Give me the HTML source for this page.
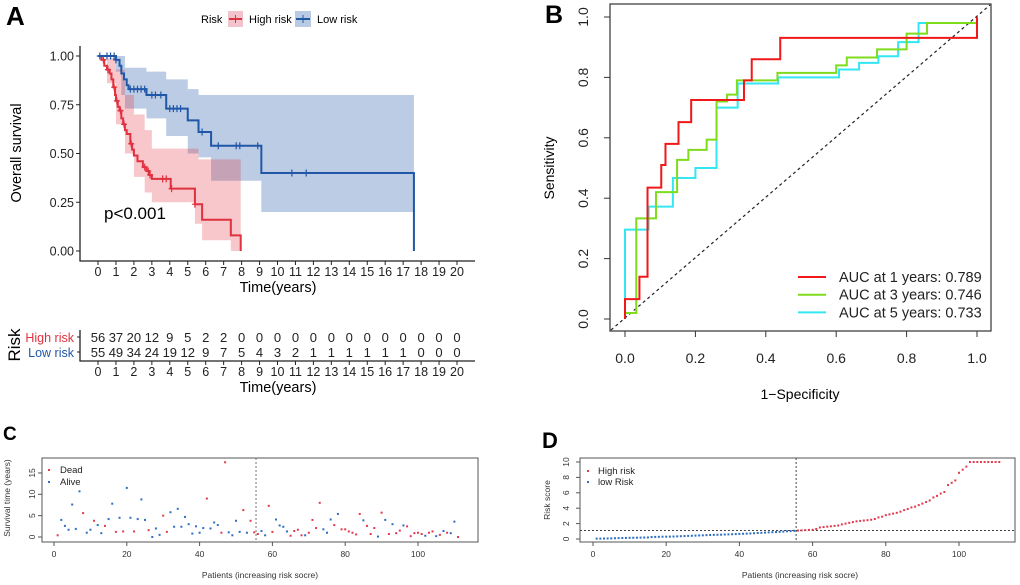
<!DOCTYPE html>
<html><head><meta charset="utf-8"><style>
body{margin:0;background:#fff;}
svg{display:block;font-family:"Liberation Sans",Arial,sans-serif;}
</style></head><body>
<svg id="fig" width="1020" height="585" viewBox="0 0 1020 585" xmlns="http://www.w3.org/2000/svg">
<g id="A"></g>
<g id="B"></g>
<g id="C"></g>
<g id="D"></g>
</svg>
<script>
// ---- Panel A data ----
const kmTicks = [0,1,2,3,4,5,6,7,8,9,10,11,12,13,14,15,16,17,18,19,20];
const yTicksA = [0,0.25,0.5,0.75,1.0];
const yTickLabA = ["0.00","0.25","0.50","0.75","1.00"];
const highT = [0,0.2,0.35,0.5,0.65,0.75,0.85,0.95,1.0,1.1,1.2,1.3,1.4,1.5,1.6,1.8,1.9,2.0,2.2,2.5,2.7,2.85,3.0,4.05,5.4,5.8,7.4,7.95];
const highS = [1,0.98,0.95,0.93,0.91,0.88,0.84,0.8,0.77,0.74,0.72,0.68,0.65,0.62,0.6,0.55,0.52,0.49,0.46,0.43,0.41,0.39,0.37,0.32,0.24,0.16,0.08,0];
const highEnd = 7.95;
const highBandT = [0,0.5,1.0,1.5,2.0,2.6,3.0,5.4,5.6,5.8,7.4];
const highBandHi = [1,0.99,0.93,0.8,0.7,0.62,0.525,0.525,0.47,0.47,0.47];
const highBandLo = [1,0.86,0.65,0.5,0.38,0.3,0.25,0.14,0.14,0.055,0.0];
const highCens = [0.3,0.55,0.9,1.05,1.25,1.45,1.85,2.6,2.8,2.9,3.6,3.8,4.1,5.4];
const lowT = [0,1.0,1.2,1.3,1.45,1.6,1.7,2.7,3.8,5.0,5.6,6.3,9.1,17.6];
const lowS = [1,0.98,0.95,0.91,0.88,0.85,0.83,0.8,0.73,0.67,0.61,0.54,0.4,0];
const lowEnd = 17.6;
const lowBandT = [0,1.0,1.3,1.5,2.7,3.8,5.0,5.6,6.3,9.1];
const lowBandHi = [1,1,1,0.94,0.92,0.88,0.83,0.8,0.8,0.8];
const lowBandLo = [1,0.92,0.8,0.73,0.68,0.59,0.5,0.48,0.36,0.2];
const lowCens = [0.1,0.5,0.7,0.9,1.0,1.8,2.0,2.2,2.4,2.6,3.0,3.2,3.5,4.0,4.2,4.4,4.6,5.8,6.7,7.7,7.9,8.9,10.8,11.6];
const riskHigh = [56,37,20,12,9,5,2,2,0,0,0,0,0,0,0,0,0,0,0,0,0];
const riskLow = [55,49,34,24,19,12,9,7,5,4,3,2,1,1,1,1,1,1,0,0,0];

// ---- Panel B data ----
const rocTicks = [0,0.2,0.4,0.6,0.8,1.0];
const rocTickLab = ["0.0","0.2","0.4","0.6","0.8","1.0"];
const roc1x = [0,0,0.041,0.041,0.064,0.064,0.103,0.103,0.115,0.115,0.152,0.152,0.188,0.188,0.338,0.338,0.36,0.36,0.441,0.441,1,1];
const roc1y = [0,0.066,0.066,0.14,0.14,0.435,0.435,0.51,0.51,0.58,0.58,0.652,0.652,0.725,0.725,0.79,0.79,0.86,0.86,0.931,0.931,1];
const roc3x = [0,0,0.032,0.032,0.088,0.088,0.148,0.148,0.18,0.18,0.232,0.232,0.26,0.26,0.29,0.29,0.318,0.318,0.433,0.433,0.6,0.6,0.63,0.63,0.716,0.716,0.8,0.8,0.858,0.858,1,1];
const roc3y = [0,0.02,0.02,0.333,0.333,0.42,0.42,0.527,0.527,0.56,0.56,0.594,0.594,0.72,0.72,0.743,0.743,0.79,0.79,0.815,0.815,0.84,0.84,0.866,0.866,0.893,0.893,0.945,0.945,0.98,0.98,1];
const roc5x = [0,0,0.067,0.067,0.136,0.136,0.2,0.2,0.26,0.26,0.32,0.32,0.435,0.435,0.608,0.608,0.665,0.665,0.72,0.72,0.776,0.776,0.834,0.834,1,1];
const roc5y = [0,0.296,0.296,0.372,0.372,0.467,0.467,0.5,0.5,0.7,0.7,0.78,0.78,0.8,0.8,0.826,0.826,0.848,0.848,0.87,0.87,0.917,0.917,0.98,0.98,1];
const rocLabels = ["AUC at 1 years: 0.789","AUC at 3 years: 0.746","AUC at 5 years: 0.733"];

// ---- Panel C data ----
const survTime = [0.4,4.0,2.6,1.7,7.6,1.9,10.7,5.6,1.0,1.7,3.8,2.8,0.9,2.6,4.2,7.8,1.2,4.5,1.3,11.5,4.5,1.3,4.2,8.8,4.0,1.6,0,2.0,0.5,5.0,1.2,5.8,2.4,6.6,2.4,4.7,3.0,0.8,2.5,1.0,2.1,9.0,2.0,3.4,2.8,1.0,17.5,1.1,0.4,3.8,1.2,6.3,1.0,3.8,1.1,0.7,1.4,0.4,7.3,1.2,4.1,2.7,2.4,1.3,0.3,1.4,1.7,0.4,0.4,1.0,4.0,2.1,8.0,1.8,1.0,4.1,2.8,5.4,1.8,1.8,1.3,1.0,0.6,5.4,3.9,2.6,0.7,2.1,0.1,5.7,4.0,0.7,3.0,0.9,1.5,2.7,2.5,0.2,0.9,1.0,0.7,0.3,1.0,1.3,0.2,0.5,1.4,1.0,0.9,3.6,0];
const survDead = [1,0,0,0,0,0,0,1,0,0,1,0,0,1,0,0,1,0,1,0,0,1,0,0,0,1,0,0,0,1,1,0,0,0,0,0,0,0,0,0,0,1,0,0,0,1,1,0,0,0,0,1,0,1,1,1,0,0,1,1,0,0,0,0,1,1,1,1,0,1,1,1,1,0,0,0,1,0,1,1,1,1,1,1,0,1,1,1,0,1,0,1,0,1,1,0,1,1,1,1,1,0,1,1,0,1,0,1,0,0,1];
const cYTicks = [0,5,10,15];
const pTicks = [0,20,40,60,80,100];

// ---- Panel D data ----
const riskScore = [0.05,0.05,0.06,0.07,0.08,0.1,0.12,0.13,0.14,0.15,0.16,0.17,0.18,0.19,0.2,0.25,0.27,0.28,0.3,0.3,0.31,0.32,0.34,0.36,0.38,0.4,0.42,0.44,0.46,0.48,0.5,0.52,0.54,0.55,0.56,0.58,0.6,0.62,0.64,0.66,0.68,0.7,0.72,0.75,0.78,0.8,0.83,0.86,0.88,0.9,0.93,0.96,1.0,1.03,1.06,
1.1,1.12,1.15,1.18,1.2,1.3,1.5,1.55,1.6,1.65,1.7,1.75,1.9,2.0,2.1,2.2,2.3,2.35,2.4,2.45,2.5,2.6,2.8,2.9,3.1,3.2,3.3,3.4,3.55,3.75,3.9,4.1,4.2,4.4,4.6,4.8,5.0,5.4,5.6,5.9,6.1,7.0,7.3,7.6,8.6,9.0,9.4,10,10,10,10,10,10,10,10,10];
const dYTicks = [0,2,4,6,8,10];
const cutoffIdx = 55.5;
const cutoffScore = 1.1;

const NS = "http://www.w3.org/2000/svg";
function mk(parent, tag, attrs, text){
  const e = document.createElementNS(NS, tag);
  for (const k in attrs) e.setAttribute(k, attrs[k]);
  if (text !== undefined) e.textContent = text;
  parent.appendChild(e);
  return e;
}

// ===== Panel A =====
(function(){
  const g = document.getElementById('A');
  const X = t => 98 + t*17.95;
  const Y = s => 251 - s*195;
  let t = mk(g,'text',{x:6,y:25,'font-size':26,'font-weight':'bold'},'A');
   
  const lg = mk(g,'g',{});
   
  mk(lg,'text',{x:201,y:23,'font-size':11},'Risk');
  mk(lg,'rect',{x:228,y:11,width:15,height:16,fill:'#f2c3ca'});
  mk(lg,'line',{x1:229,y1:19,x2:242,y2:19,stroke:'#e0313f','stroke-width':2});
  mk(lg,'line',{x1:235.5,y1:15,x2:235.5,y2:23,stroke:'#e0313f','stroke-width':1});
  let e = mk(lg,'text',{x:249,y:23,'font-size':11},'High risk');
   
  mk(lg,'rect',{x:295,y:11,width:16,height:16,fill:'#b8cbe3'});
  mk(lg,'line',{x1:296,y1:19,x2:310,y2:19,stroke:'#2057a7','stroke-width':2});
  mk(lg,'line',{x1:303,y1:15,x2:303,y2:23,stroke:'#2057a7','stroke-width':1});
  e = mk(lg,'text',{x:317,y:23,'font-size':11},'Low risk');
   

  function band(T,Hi,Lo,end,fill,name){
    let d = 'M'+X(T[0])+' '+Y(Hi[0]);
    for (let i=0;i<T.length;i++){
      const tn = i+1<T.length?T[i+1]:end;
      d += ' V'+Y(Hi[i])+' H'+X(tn);
    }
    for (let i=T.length-1;i>=0;i--){
      d += ' V'+Y(Lo[i])+' H'+X(T[i]);
    }
    d+='Z';
    const p = mk(g,'path',{d:d,fill:fill});
     
  }
  band(lowBandT,lowBandHi,lowBandLo,lowEnd,'rgba(32,87,167,0.3)','low-risk-ci-band');
  band(highBandT,highBandHi,highBandLo,highEnd,'rgba(224,49,63,0.27)','high-risk-ci-band');
  function curve(T,S,cens,col,name){
    let d='M'+X(T[0])+' '+Y(S[0]);
    for (let i=1;i<T.length;i++) d+=' H'+X(T[i])+' V'+Y(S[i]);
    const p = mk(g,'path',{d:d,fill:'none',stroke:col,'stroke-width':2});
     
    cens.forEach(c=>{
      let s=S[0]; for(let i=0;i<T.length;i++){ if(T[i]<=c) s=S[i]; }
      const m = mk(g,'path',{d:'M'+(X(c)-3)+' '+Y(s)+' h6 M'+X(c)+' '+(Y(s)-3.5)+' v7',stroke:col,'stroke-width':1.2});
       
    });
  }
  curve(highT,highS,highCens,'#e0313f','high-risk-curve');
  curve(lowT,lowS,lowCens,'#2057a7','low-risk-curve');
  const ax = mk(g,'path',{d:'M80 46 V261 H475',fill:'none',stroke:'#222','stroke-width':1.3});
   
  yTicksA.forEach((v,i)=>{
    mk(g,'line',{x1:76,y1:Y(v),x2:80,y2:Y(v),stroke:'#222'});
    const l = mk(g,'text',{x:74,y:Y(v)+4.5,'font-size':12.5,'text-anchor':'end',fill:'#222'},yTickLabA[i]);
     
  });
  kmTicks.forEach(v=>{
    mk(g,'line',{x1:X(v),y1:261,x2:X(v),y2:265,stroke:'#222'});
    const l = mk(g,'text',{x:X(v),y:276,'font-size':12.5,'text-anchor':'middle',fill:'#222'},String(v));
     
  });
  e = mk(g,'text',{x:278,y:292,'font-size':14.5,'text-anchor':'middle'},'Time(years)');
   
  e = mk(g,'text',{x:21,y:153,'font-size':14.5,'text-anchor':'middle',transform:'rotate(-90 21 153)'},'Overall survival');
   
  e = mk(g,'text',{x:104,y:219,'font-size':17},'p<0.001');
   
  const rt = mk(g,'g',{});
   
  mk(rt,'path',{d:'M80 330 V361 H475',fill:'none',stroke:'#222','stroke-width':1.3});
  mk(rt,'line',{x1:77,y1:337,x2:80,y2:337,stroke:'#222'});
  mk(rt,'line',{x1:77,y1:352,x2:80,y2:352,stroke:'#222'});
  mk(rt,'text',{x:74,y:342,'font-size':12.5,'text-anchor':'end',fill:'#e0313f'},'High risk');
  mk(rt,'text',{x:74,y:357,'font-size':12.5,'text-anchor':'end',fill:'#2057a7'},'Low risk');
  mk(rt,'text',{x:20,y:345,'font-size':17,'text-anchor':'middle',transform:'rotate(-90 20 345)'},'Risk');
  kmTicks.forEach((v,i)=>{
    mk(rt,'text',{x:X(v),y:342,'font-size':13,'text-anchor':'middle',fill:'#222'},String(riskHigh[i]));
    mk(rt,'text',{x:X(v),y:357,'font-size':13,'text-anchor':'middle',fill:'#222'},String(riskLow[i]));
    mk(rt,'line',{x1:X(v),y1:361,x2:X(v),y2:365,stroke:'#222'});
    mk(rt,'text',{x:X(v),y:376,'font-size':12.5,'text-anchor':'middle',fill:'#222'},String(v));
  });
  mk(rt,'text',{x:278,y:392,'font-size':14.5,'text-anchor':'middle'},'Time(years)');
})();

// ===== Panel B =====
(function(){
  const g = document.getElementById('B');
  const X = v => 625 + v*352;
  const Y = v => 319 - v*302;
  let e = mk(g,'text',{x:545,y:23,'font-size':25,'font-weight':'bold'},'B');
   
  e = mk(g,'rect',{x:610,y:4,width:381,height:327,fill:'none',stroke:'#333','stroke-width':1.2});
   
  e = mk(g,'line',{x1:611,y1:330,x2:990,y2:5,stroke:'#222','stroke-width':1.2,'stroke-dasharray':'3,3'});
   
  function roc(xs,ys,col,name){
    let d='';
    xs.forEach((x,i)=>{ d+=(i?' L':'M')+X(x)+' '+Y(ys[i]); });
    const p = mk(g,'path',{d:d,fill:'none',stroke:col,'stroke-width':2});
     
  }
  roc(roc5x,roc5y,'#33e6f2','roc-curve-5-years');
  roc(roc3x,roc3y,'#7fdc1c','roc-curve-3-years');
  roc(roc1x,roc1y,'#f01818','roc-curve-1-year');
  rocTicks.forEach((v,i)=>{
    mk(g,'line',{x1:X(v),y1:331,x2:X(v),y2:337,stroke:'#333'});
    mk(g,'text',{x:X(v),y:363,'font-size':14,'text-anchor':'middle',fill:'#222'},rocTickLab[i]);
    mk(g,'line',{x1:604,y1:Y(v),x2:610,y2:Y(v),stroke:'#333'});
    mk(g,'text',{x:588,y:Y(v),'font-size':14,'text-anchor':'middle',fill:'#222',transform:'rotate(-90 588 '+Y(v)+')'},rocTickLab[i]);
  });
  e = mk(g,'text',{x:800,y:399,'font-size':14,'text-anchor':'middle'},'1\u2212Specificity');
   
  e = mk(g,'text',{x:554,y:168,'font-size':14,'text-anchor':'middle',transform:'rotate(-90 554 168)'},'Sensitivity');
   
  const cols = ['#f01818','#7fdc1c','#33e6f2'];
  rocLabels.forEach((lab,i)=>{
    const y = 277 + i*17.7;
    mk(g,'line',{x1:798,y1:y,x2:826,y2:y,stroke:cols[i],'stroke-width':2});
    const t = mk(g,'text',{x:839,y:y+5,'font-size':14.5,fill:'#222'},lab);
     
  });
})();

// ===== Panel C =====
(function(){
  const g = document.getElementById('C');
  const X = i => 54 + i*3.64;
  const Y = v => 537 - v*4.27;
  let e = mk(g,'text',{x:3,y:440,'font-size':19,'font-weight':'bold'},'C');
   
  e = mk(g,'rect',{x:42,y:458,width:436,height:84,fill:'none',stroke:'#555','stroke-width':1});
   
  e = mk(g,'line',{x1:X(cutoffIdx),y1:458,x2:X(cutoffIdx),y2:542,stroke:'#777','stroke-width':1,'stroke-dasharray':'2,2'});
   
  survTime.forEach((v,i)=>{
    const c = mk(g,'rect',{x:X(i+1)-1,y:Y(v)-1,width:2,height:2,fill:survDead[i]?'#e23a4e':'#2e6fc2'});
     
  });
  cYTicks.forEach(v=>{
    mk(g,'line',{x1:38,y1:Y(v),x2:42,y2:Y(v),stroke:'#555'});
    mk(g,'text',{x:35,y:Y(v),'font-size':8.5,'text-anchor':'middle',fill:'#333',transform:'rotate(-90 35 '+Y(v)+')'},String(v));
  });
  pTicks.forEach(v=>{
    mk(g,'line',{x1:X(v),y1:542,x2:X(v),y2:546,stroke:'#555'});
    mk(g,'text',{x:X(v),y:557,'font-size':8.5,'text-anchor':'middle',fill:'#333'},String(v));
  });
  e = mk(g,'text',{x:260,y:578,'font-size':8.5,'text-anchor':'middle',fill:'#333'},'Patients (increasing risk socre)');
   
  e = mk(g,'text',{x:10,y:498,'font-size':8.5,'text-anchor':'middle',fill:'#333',transform:'rotate(-90 10 498)'},'Survival time (years)');
   
  mk(g,'rect',{x:48,y:469,width:2,height:2,fill:'#e23a4e'});
  e = mk(g,'text',{x:60,y:473,'font-size':9.5,fill:'#222'},'Dead');
   
  mk(g,'rect',{x:48,y:481,width:2,height:2,fill:'#2e6fc2'});
  e = mk(g,'text',{x:60,y:485,'font-size':9.5,fill:'#222'},'Alive');
   
})();

// ===== Panel D =====
(function(){
  const g = document.getElementById('D');
  const X = i => 593 + i*3.66;
  const Y = v => 539 - v*7.7;
  let e = mk(g,'text',{x:542,y:448,'font-size':22,'font-weight':'bold'},'D');
   
  e = mk(g,'rect',{x:580,y:458,width:435,height:84,fill:'none',stroke:'#555','stroke-width':1});
   
  e = mk(g,'line',{x1:X(cutoffIdx),y1:458,x2:X(cutoffIdx),y2:542,stroke:'#444','stroke-width':1,'stroke-dasharray':'2,2'});
   
  e = mk(g,'line',{x1:580,y1:Y(cutoffScore),x2:1015,y2:Y(cutoffScore),stroke:'#444','stroke-width':1,'stroke-dasharray':'2,2'});
   
  riskScore.forEach((v,i)=>{
    const c = mk(g,'rect',{x:X(i+1)-1,y:Y(v)-1,width:2,height:2,fill:(i+1)>cutoffIdx?'#e23a4e':'#2e6fc2'});
     
  });
  dYTicks.forEach(v=>{
    mk(g,'line',{x1:576,y1:Y(v),x2:580,y2:Y(v),stroke:'#555'});
    mk(g,'text',{x:569,y:Y(v),'font-size':8.5,'text-anchor':'middle',fill:'#333',transform:'rotate(-90 569 '+Y(v)+')'},String(v));
  });
  pTicks.forEach(v=>{
    mk(g,'line',{x1:X(v),y1:542,x2:X(v),y2:546,stroke:'#555'});
    mk(g,'text',{x:X(v),y:557,'font-size':8.5,'text-anchor':'middle',fill:'#333'},String(v));
  });
  e = mk(g,'text',{x:800,y:578,'font-size':8.5,'text-anchor':'middle',fill:'#333'},'Patients (increasing risk socre)');
   
  e = mk(g,'text',{x:550,y:500,'font-size':8.5,'text-anchor':'middle',fill:'#333',transform:'rotate(-90 550 500)'},'Risk score');
   
  mk(g,'rect',{x:587,y:470,width:2,height:2,fill:'#e23a4e'});
  e = mk(g,'text',{x:598,y:474,'font-size':9.5,fill:'#222'},'High risk');
   
  mk(g,'rect',{x:587,y:481,width:2,height:2,fill:'#2e6fc2'});
  e = mk(g,'text',{x:598,y:485,'font-size':9.5,fill:'#222'},'low Risk');
   
})();
</script>
</body></html>
